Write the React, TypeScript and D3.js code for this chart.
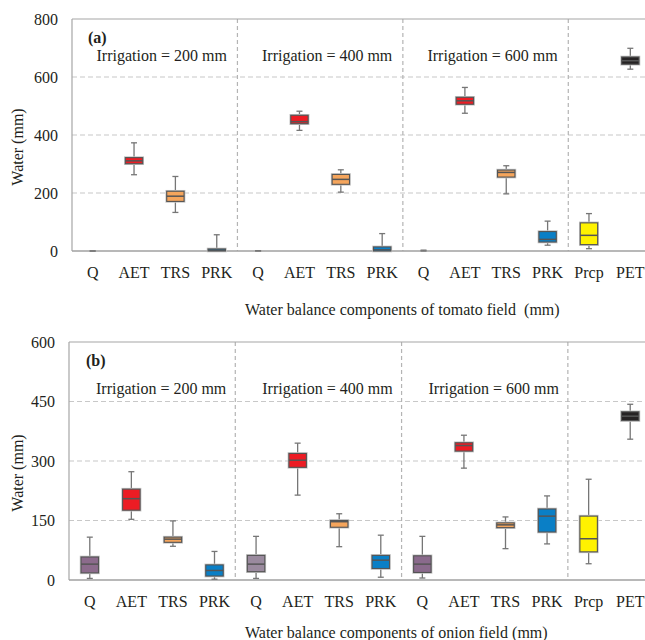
import React from "react";
import * as d3 from "d3";

const categories = ["Q", "AET", "TRS", "PRK", "Q", "AET", "TRS", "PRK", "Q", "AET", "TRS", "PRK", "Prcp", "PET"];
const irrigationLabels = ["Irrigation = 200 mm", "Irrigation = 400 mm", "Irrigation = 600 mm"];

// Tomato field (a)
const tomatoMin = [0, 263, 133, 0, 0, 416, 203, 0, 0, 475, 197, 20, 8, 627];
const tomatoQ1 = [0, 301, 171, 0, 0, 439, 230, 0, 0, 506, 255, 31, 22, 644];
const tomatoMedian = [0, 311, 189, 3, 0, 446, 247, 4, 1, 518, 271, 40, 54, 656];
const tomatoQ3 = [0, 322, 206, 7, 0, 468, 264, 14, 0, 530, 279, 67, 97, 669];
const tomatoMax = [0, 373, 257, 56, 1, 482, 280, 60, 3, 564, 294, 103, 129, 699];
const tomatoTicks = [0, 200, 400, 600, 800];

// Onion field (b)
const onionMin = [4, 153, 85, 2, 4, 214, 84, 7, 5, 282, 79, 91, 41, 355];
const onionQ1 = [18, 176, 95, 10, 21, 284, 133, 29, 19, 325, 132, 121, 71, 402];
const onionMedian = [40, 205, 103, 24, 40, 302, 147, 50, 40, 339, 139, 161, 104, 413];
const onionQ3 = [58, 229, 108, 38, 62, 319, 150, 62, 61, 346, 144, 179, 161, 424];
const onionMax = [108, 273, 149, 72, 110, 345, 167, 113, 110, 365, 159, 212, 254, 443];
const onionTicks = [0, 150, 300, 450, 600];

const colorByCategory: Record<string, string> = {
  Q: "#8d6e8f",
  AET: "#ed1c24",
  TRS: "#f5a55c",
  PRK: "#0a7fc6",
  Prcp: "#fff200",
  PET: "#262324",
};
const qColors = ["#8c6b8c", "#9a8a9e", "#8a6a8c"];

const FS = { fontFamily: '"Liberation Serif"' };
const TEXT = "#231f20";

type PanelProps = {
  tag: string;
  x0: number;
  x1: number;
  yTop: number;
  yBottom: number;
  ticks: number[];
  mins: number[];
  q1s: number[];
  meds: number[];
  q3s: number[];
  maxs: number[];
  title: string;
  labelOffset: number;
  labelDy: number;
  titleDy: number;
};

function Panel(p: PanelProps) {
  const x = d3
    .scaleBand<string>()
    .domain(categories.map((_, i) => String(i)))
    .range([p.x0, p.x1])
    .paddingInner(0)
    .paddingOuter(0);
  const y = d3
    .scaleLinear()
    .domain([0, p.ticks[p.ticks.length - 1]])
    .range([p.yBottom, p.yTop]);
  const bw = x.bandwidth();
  const boxW = bw * 0.42;
  const capW = 6;
  const dividers = [4, 8, 12].map((i) => x(String(i)) as number);
  const groupBounds = [p.x0, ...dividers];

  return (
    <g>
      {p.ticks.slice(1, -1).map((t) => (
        <line key={"g" + t} x1={p.x0} x2={p.x1} y1={y(t)} y2={y(t)} stroke="#c8c8c8" strokeWidth={1.2} strokeDasharray="5,3" />
      ))}
      {dividers.map((d, i) => (
        <line key={"d" + i} x1={d} x2={d} y1={p.yTop} y2={p.yBottom} stroke="#b4b4b4" strokeWidth={1.2} strokeDasharray="4,3" />
      ))}
      <line x1={p.x0} x2={p.x1} y1={p.yTop} y2={p.yTop} stroke="#a6a6a6" strokeWidth={1.2} />
      <line x1={p.x0} x2={p.x0} y1={p.yTop} y2={p.yBottom} stroke="#a6a6a6" strokeWidth={1.2} />
      <line x1={p.x0} x2={p.x1} y1={p.yBottom} y2={p.yBottom} stroke="#a0a0a0" strokeWidth={1.5} />

      {p.ticks.map((t) => (
        <text key={"yt" + t} x={p.x0 - 14} y={y(t) + 5.5} textAnchor="end" fontSize={16} fill={TEXT} style={FS}>
          {t}
        </text>
      ))}
      {categories.map((c, i) => (
        <text key={"xt" + i} x={(x(String(i)) as number) + bw / 2} y={p.yBottom + 27} textAnchor="middle" fontSize={16} fill={TEXT} style={FS}>
          {c}
        </text>
      ))}

      {categories.map((c, i) => {
        const cx = (x(String(i)) as number) + bw / 2;
        const fill = c === "Q" ? qColors[Math.floor(i / 4)] : colorByCategory[c];
        const yq1 = y(p.q1s[i]);
        const yq3 = y(p.q3s[i]);
        const hasBox = yq1 - yq3 > 0.8;
        return (
          <g key={"b" + i}>
            <line x1={cx} x2={cx} y1={y(p.maxs[i])} y2={yq3} stroke="#767676" strokeWidth={1.3} />
            <line x1={cx} x2={cx} y1={y(p.mins[i])} y2={yq1} stroke="#767676" strokeWidth={1.3} />
            <line x1={cx - capW / 2} x2={cx + capW / 2} y1={y(p.maxs[i])} y2={y(p.maxs[i])} stroke="#767676" strokeWidth={1.3} />
            <line x1={cx - capW / 2} x2={cx + capW / 2} y1={y(p.mins[i])} y2={y(p.mins[i])} stroke="#767676" strokeWidth={1.3} />
            {hasBox && (
              <>
                <rect x={cx - boxW / 2} y={yq3} width={boxW} height={yq1 - yq3} fill={fill} stroke="#c4c4c4" strokeWidth={2.6} />
                <rect x={cx - boxW / 2} y={yq3} width={boxW} height={yq1 - yq3} fill={fill} stroke="#545454" strokeWidth={1.1} />
                <line x1={cx - boxW / 2} x2={cx + boxW / 2} y1={y(p.meds[i])} y2={y(p.meds[i])} stroke="#555" strokeWidth={1.5} />
              </>
            )}
          </g>
        );
      })}

      <text x={p.x0 + (p.tag === "(a)" ? 16 : 17)} y={p.yTop + 24} fontSize={16} fontWeight="bold" fill={TEXT} style={FS}>
        {p.tag}
      </text>
      {irrigationLabels.map((l, i) => (
        <text key={"ir" + i} x={(groupBounds[i] + groupBounds[i + 1]) / 2 + p.labelOffset} y={p.yTop + p.labelDy} textAnchor="middle" fontSize={16} fill={TEXT} style={FS}>
          {l}
        </text>
      ))}

      <text transform={`translate(${23},${(p.yTop + p.yBottom) / 2 + 12}) rotate(-90)`} textAnchor="middle" fontSize={16} fill={TEXT} style={FS}>
        Water (mm)
      </text>
      <text x={245} y={p.yBottom + p.titleDy} fontSize={16} fill={TEXT} style={{ ...FS, whiteSpace: "pre" }}>
        {p.title}
      </text>
    </g>
  );
}

export default function App() {
  return (
    <svg width={645} height={640} style={{ position: "absolute", left: 0, top: 0, background: "#fff" }}>
      <rect x={0} y={0} width={645} height={640} fill="#fff" />
      <Panel
        tag="(a)"
        x0={72}
        x1={651}
        yTop={19}
        yBottom={251}
        ticks={tomatoTicks}
        mins={tomatoMin}
        q1s={tomatoQ1}
        meds={tomatoMedian}
        q3s={tomatoQ3}
        maxs={tomatoMax}
        title="Water balance components of tomato field  (mm)"
        labelOffset={7}
        labelDy={42}
        titleDy={64}
      />
      <Panel
        tag="(b)"
        x0={69}
        x1={651}
        yTop={342}
        yBottom={580}
        ticks={onionTicks}
        mins={onionMin}
        q1s={onionQ1}
        meds={onionMedian}
        q3s={onionQ3}
        maxs={onionMax}
        title="Water balance components of onion field (mm)"
        labelOffset={9}
        labelDy={52}
        titleDy={58}
      />
    </svg>
  );
}
